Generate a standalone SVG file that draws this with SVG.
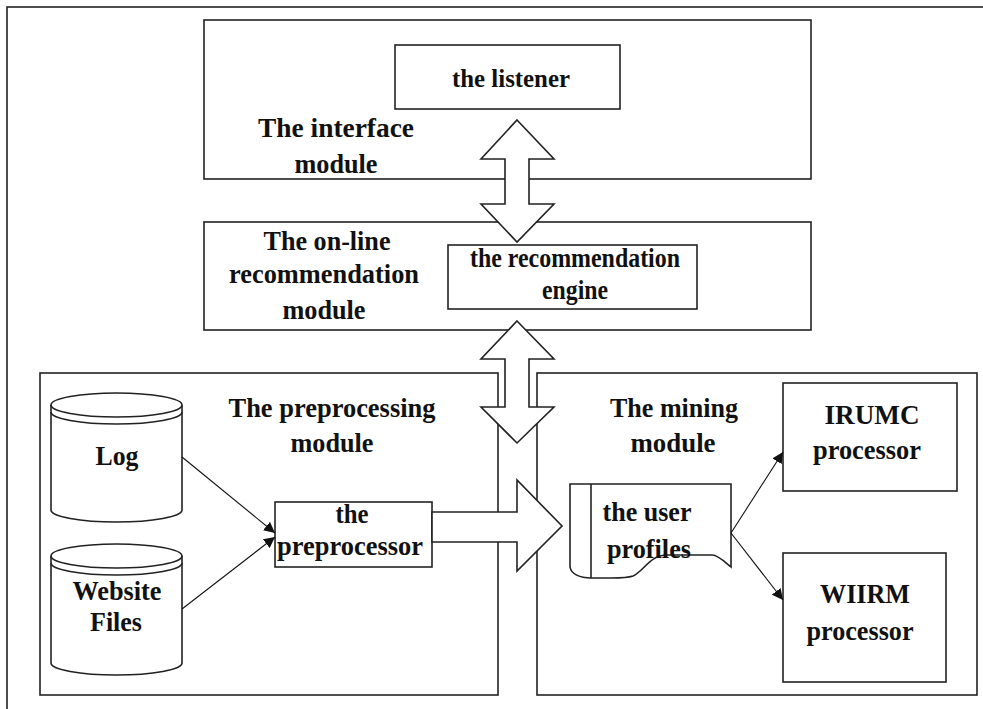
<svg xmlns="http://www.w3.org/2000/svg" width="983" height="709" viewBox="0 0 983 709">
<defs>
<style>
.s{fill:#fff;stroke:#222;stroke-width:1.6}
.n{fill:none;stroke:#222;stroke-width:1.6}
.c{fill:none;stroke:#111;stroke-width:1.1}
.t{font-family:"Liberation Serif","Times New Roman",serif;font-weight:bold;font-size:27px;fill:#111;text-anchor:middle}
.sm{font-size:25px}
</style>
<marker id="ah" viewBox="0 0 10 10" refX="10" refY="5" markerWidth="11" markerHeight="11" markerUnits="userSpaceOnUse" orient="auto">
<path d="M0,0 L10,5 L0,10 Z" fill="#111"/>
</marker>
</defs>
<rect width="983" height="709" fill="#fff"/>
<rect id="frame" x="7" y="7" width="1000" height="720" class="n" stroke="#444"/>

<g id="interface-module">
<rect x="204" y="20" width="607" height="159" class="s"/>
<text class="t" x="336" y="137" textLength="156" lengthAdjust="spacingAndGlyphs">The interface</text>
<text class="t" x="336" y="173" textLength="83" lengthAdjust="spacingAndGlyphs">module</text>
</g>
<g id="listener">
<rect x="395" y="45" width="225" height="64" class="s"/>
<text class="t sm" x="511" y="87" textLength="118" lengthAdjust="spacingAndGlyphs">the listener</text>
</g>

<g id="online-module">
<rect x="204" y="222" width="607" height="108" class="s"/>
<text class="t" x="327" y="250" textLength="127" lengthAdjust="spacingAndGlyphs">The on-line</text>
<text class="t" x="324" y="283" textLength="190" lengthAdjust="spacingAndGlyphs">recommendation</text>
<text class="t" x="324" y="319" textLength="83" lengthAdjust="spacingAndGlyphs">module</text>
</g>
<g id="recommendation-engine">
<rect x="448" y="245" width="249" height="64" class="s"/>
<text class="t" x="575" y="267" font-size="24" textLength="210" lengthAdjust="spacingAndGlyphs">the recommendation</text>
<text class="t" x="575" y="299" font-size="24" textLength="66" lengthAdjust="spacingAndGlyphs">engine</text>
</g>

<g id="preprocessing-module">
<rect x="40" y="373" width="458" height="322" class="s"/>
<text class="t" x="332" y="417" textLength="207" lengthAdjust="spacingAndGlyphs">The preprocessing</text>
<text class="t" x="332" y="452" textLength="83" lengthAdjust="spacingAndGlyphs">module</text>
</g>
<g id="log">
<path d="M51,405 A65.5,12 0 0 1 182,405 V510 A65.5,12 0 0 1 51,510 Z" class="s"/>
<path d="M51,405 A65.5,12 0 0 0 182,405 M51,412 A65.5,12 0 0 0 182,412" class="n"/>
<text class="t" x="117" y="465" textLength="43" lengthAdjust="spacingAndGlyphs">Log</text>
</g>
<g id="website-files">
<path d="M51,556 A65.5,12 0 0 1 182,556 V663 A65.5,12 0 0 1 51,663 Z" class="s"/>
<path d="M51,556 A65.5,12 0 0 0 182,556 M51,563 A65.5,12 0 0 0 182,563" class="n"/>
<text class="t" x="117" y="600" textLength="89" lengthAdjust="spacingAndGlyphs">Website</text>
<text class="t" x="116" y="631" textLength="52" lengthAdjust="spacingAndGlyphs">Files</text>
</g>
<g id="preprocessor">
<rect x="275" y="502" width="157" height="65" class="s"/>
<text class="t" x="352" y="523" textLength="33" lengthAdjust="spacingAndGlyphs">the</text>
<text class="t" x="350" y="555" textLength="146" lengthAdjust="spacingAndGlyphs">preprocessor</text>
</g>

<g id="mining-module">
<rect x="537" y="373" width="440" height="322" class="s"/>
<text class="t" x="674" y="417" textLength="128" lengthAdjust="spacingAndGlyphs">The mining</text>
<text class="t" x="673" y="452" textLength="85" lengthAdjust="spacingAndGlyphs">module</text>
</g>
<g id="user-profiles">
<path d="M570,484 H731 V567 C725,562 718,555 712,555 H667 C650,555 644,571 633,576 C627,578 620,578 612,578 H591 C580,578 571,574 570,567 Z" class="s"/>
<path d="M591,484 V578" class="n"/>
<text class="t" x="647" y="521" font-size="26" textLength="89" lengthAdjust="spacingAndGlyphs">the user</text>
<text class="t" x="649" y="558" font-size="26" textLength="84" lengthAdjust="spacingAndGlyphs">profiles</text>
</g>
<g id="irumc">
<rect x="783" y="383" width="174" height="108" class="s"/>
<text class="t" x="872" y="424" textLength="95" lengthAdjust="spacingAndGlyphs">IRUMC</text>
<text class="t" x="867" y="459" textLength="108" lengthAdjust="spacingAndGlyphs">processor</text>
</g>
<g id="wiirm">
<rect x="783" y="553" width="163" height="129" class="s"/>
<text class="t" x="865" y="603" textLength="90" lengthAdjust="spacingAndGlyphs">WIIRM</text>
<text class="t" x="860" y="640" textLength="107" lengthAdjust="spacingAndGlyphs">processor</text>
</g>

<g id="connectors">
<path d="M517,120 L554,159 L529,159 L529,204 L554,204 L517,242 L481,204 L505,204 L505,159 L481,159 Z" class="s"/>
<path d="M517,321 L554,359 L529,359 L529,407 L554,407 L517,443 L481,407 L505,407 L505,359 L481,359 Z" class="s"/>
<path d="M432,512 L517,512 L517,480 L562,526 L517,571 L517,542 L432,542 Z" class="s"/>
<line x1="182" y1="457" x2="275" y2="533" class="c" marker-end="url(#ah)"/>
<line x1="182" y1="609" x2="275" y2="537" class="c" marker-end="url(#ah)"/>
<line x1="731" y1="533" x2="783" y2="452" class="c" marker-end="url(#ah)"/>
<line x1="731" y1="533" x2="783" y2="600" class="c" marker-end="url(#ah)"/>
</g>
</svg>
